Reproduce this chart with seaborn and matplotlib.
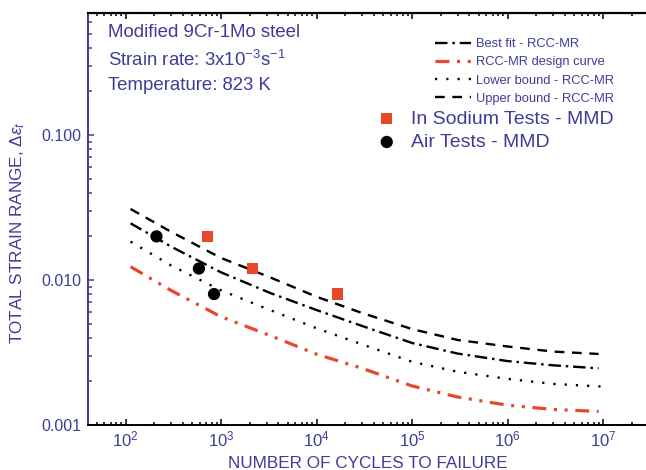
import numpy as np
import pandas as pd
import matplotlib
matplotlib.use('Agg')
import matplotlib.pyplot as plt
import seaborn as sns
from matplotlib.ticker import LogLocator, FixedLocator, FuncFormatter, NullFormatter

# --- data ---
cycles_curve = [113, 300, 1000, 3300, 1e4, 3e4, 1e5, 3e5, 1e6, 3e6, 9e6]
cycles_lower = [113, 300, 1000, 3300, 1e4, 3e4, 1e5, 3e5, 1e6, 3e6, 1e7]
upper_bound = [0.0309, 0.0215, 0.0142, 0.0104, 0.00767, 0.00592, 0.00459, 0.00386, 0.00348, 0.00321, 0.00309]
best_fit = [0.0246, 0.0170, 0.0113, 0.00812, 0.00621, 0.00482, 0.00368, 0.00311, 0.00276, 0.00258, 0.00246]
lower_bound = [0.0184, 0.0126, 0.00849, 0.00619, 0.00465, 0.00360, 0.00273, 0.00233, 0.00208, 0.00192, 0.00184]
design_curve = [0.01235, 0.00847, 0.00558, 0.00413, 0.00308, 0.00246, 0.00186, 0.00156, 0.00137, 0.00128, 0.00124]

air_cycles = [211, 587, 845]
air_strain = [0.020, 0.012, 0.008]
sodium_cycles = [720, 2150, 16600]
sodium_strain = [0.020, 0.012, 0.008]

line_labels = ['Best fit - RCC-MR', 'RCC-MR design curve',
               'Lower bound - RCC-MR', 'Upper bound - RCC-MR']
point_labels = ['In Sodium Tests - MMD', 'Air Tests - MMD']

# --- style ---
sns.set_style('ticks')
plt.rcParams['font.family'] = ['Liberation Sans', 'DejaVu Sans']
plt.rcParams['mathtext.fontset'] = 'custom'
plt.rcParams['mathtext.rm'] = 'Liberation Sans'
plt.rcParams['mathtext.it'] = 'Liberation Sans:italic'
plt.rcParams['mathtext.default'] = 'regular'
plt.rcParams['lines.scale_dashes'] = False

BLUE = '#3d3d99'
RED = '#e8482a'
W, H = 646, 470


def fx(px):
    return px / W


def fy(py):
    return 1 - py / H


fig = plt.figure(figsize=(W / 100, H / 100), dpi=100)
ax = fig.add_axes([fx(87.5), 45 / H, (W - 87.5) / W, (425 - 12.5) / H])
ax.set_xscale('log')
ax.set_yscale('log')

# curves
sns.lineplot(x=cycles_curve, y=best_fit, ax=ax, color='black', lw=1.7, errorbar=None,
             linestyle=(0, (9, 3.5, 1.8, 3.5)))
sns.lineplot(x=cycles_curve, y=design_curve, ax=ax, color=RED, lw=2.3, errorbar=None,
             linestyle=(0, (10, 5.5, 2.2, 5.5, 2.2, 5.5)))
sns.lineplot(x=cycles_lower, y=lower_bound, ax=ax, color='black', lw=1.7, errorbar=None,
             linestyle=(0, (1.6, 6.5)))
sns.lineplot(x=cycles_curve, y=upper_bound, ax=ax, color='black', lw=1.7, errorbar=None,
             linestyle=(0, (7, 5.5)))
line_handles = list(ax.lines[:4])

# test points
n_coll = len(ax.collections)
sns.scatterplot(x=sodium_cycles, y=sodium_strain, ax=ax, marker='s', s=66,
                color=RED, edgecolor='none', linewidth=0, zorder=4)
sns.scatterplot(x=air_cycles, y=air_strain, ax=ax, marker='o', s=78,
                color='black', edgecolor='none', linewidth=0, zorder=4)
point_handles = list(ax.collections[n_coll:n_coll + 2])

ax.set_xlim(40, 2.82e7)
ax.set_ylim(0.001, 0.7)

# ticks
ax.yaxis.set_major_locator(FixedLocator([0.001, 0.01, 0.1]))
ax.yaxis.set_major_formatter(FuncFormatter(lambda v, p: f'{v:.3f}'))
ax.yaxis.set_minor_locator(LogLocator(base=10, subs=np.arange(2, 10), numticks=50))
ax.yaxis.set_minor_formatter(NullFormatter())
ax.xaxis.set_major_locator(LogLocator(base=10, numticks=20))
ax.xaxis.set_minor_locator(LogLocator(base=10, subs=np.arange(2, 10), numticks=100))
ax.xaxis.set_minor_formatter(NullFormatter())

ax.tick_params(axis='y', which='both', direction='in', color=BLUE,
               labelcolor=BLUE, left=True, right=False, labelsize=11.5, pad=4.7)
ax.tick_params(axis='y', which='major', length=4.5, width=1.1)
ax.tick_params(axis='y', which='minor', length=3, width=1.1)
ax.tick_params(axis='x', which='both', direction='in', color='black',
               labelcolor=BLUE, top=True, bottom=True, labelsize=12, pad=3)
ax.tick_params(axis='x', which='major', length=4, width=1.1)
ax.tick_params(axis='x', which='minor', length=2.5, width=1.1)

for side in ['left', 'bottom', 'top']:
    ax.spines[side].set_visible(True)
ax.spines['right'].set_visible(False)
ax.spines['left'].set_color(BLUE)
ax.spines['left'].set_linewidth(1.4)
ax.spines['bottom'].set_color('black')
ax.spines['bottom'].set_linewidth(1.4)
ax.spines['top'].set_color('black')
ax.spines['top'].set_linewidth(1.6)
ax.grid(False)

# axis titles
fig.text(fx(368), fy(468), 'NUMBER OF CYCLES TO FAILURE', color=BLUE,
         fontsize=12.3, ha='center', va='baseline')
fig.text(fx(18), fy(233), r'TOTAL STRAIN RANGE, $\it{\Delta\epsilon_t}$', color=BLUE,
         fontsize=12.3, ha='center', va='center', rotation=90)

# annotation block
fig.text(fx(108), fy(37), 'Modified 9Cr-1Mo steel', color=BLUE, fontsize=13.4, va='baseline')
fig.text(fx(108), fy(65.5), 'Strain rate: 3x10$^{-3}$s$^{-1}$', color=BLUE, fontsize=13.4, va='baseline')
fig.text(fx(108), fy(90.5), 'Temperature: 823 K', color=BLUE, fontsize=13.4, va='baseline')

# legends
leg1 = ax.legend(line_handles, line_labels, loc='upper left',
                 bbox_to_anchor=(fx(435), fy(38)), bbox_transform=fig.transFigure,
                 frameon=False, borderpad=0, borderaxespad=0, fontsize=9.3,
                 handlelength=2.8, handletextpad=0.35, labelspacing=0.48)
for t in leg1.get_texts():
    t.set_color(BLUE)
ax.add_artist(leg1)

leg2 = ax.legend(point_handles, point_labels, loc='upper left',
                 bbox_to_anchor=(fx(377), fy(110)), bbox_transform=fig.transFigure,
                 frameon=False, borderpad=0, borderaxespad=0, fontsize=14,
                 handlelength=1.0, handletextpad=0.75, labelspacing=0.3,
                 scatterpoints=1)
for t in leg2.get_texts():
    t.set_color(BLUE)

fig.savefig('out.png', dpi=100)
